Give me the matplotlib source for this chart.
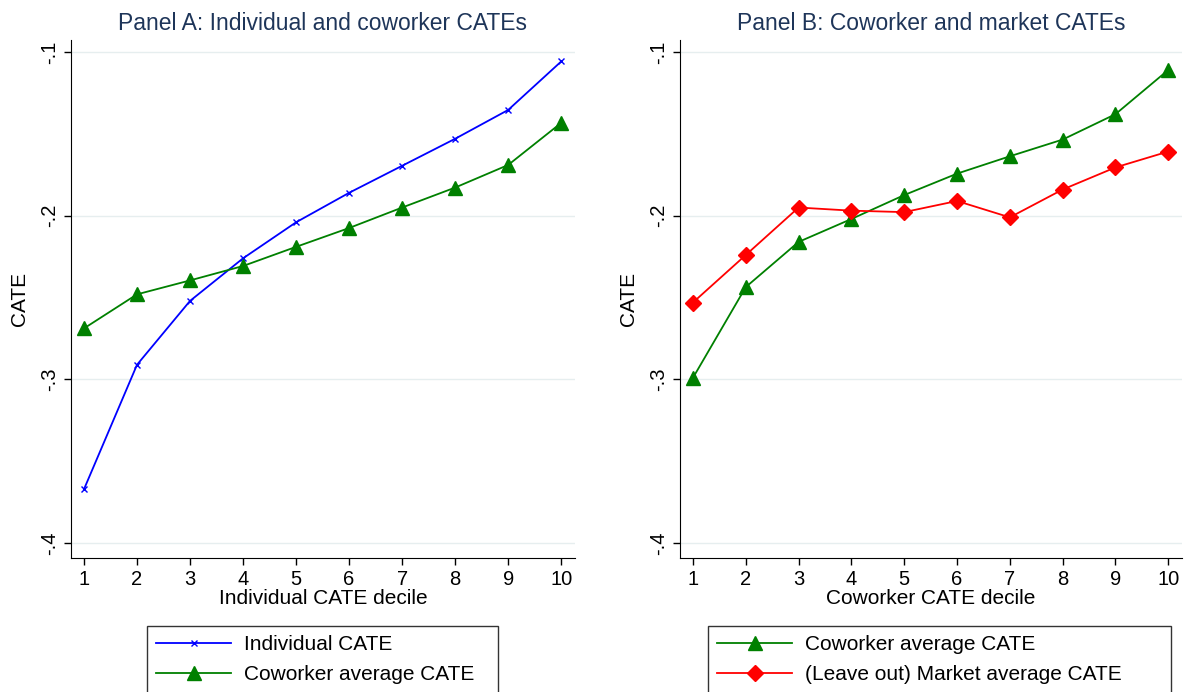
import numpy as np
import matplotlib
matplotlib.use("Agg")
import matplotlib.pyplot as plt

plt.rcParams['font.family'] = ['Liberation Sans', 'DejaVu Sans']

deciles = np.arange(1, 11)

# Panel A
indiv_cate = [-0.367, -0.291, -0.252, -0.226, -0.204, -0.186, -0.1695, -0.153, -0.1354, -0.1058]
cowork_a = [-0.2688, -0.248, -0.2395, -0.2307, -0.219, -0.2075, -0.195, -0.1828, -0.169, -0.1433]

# Panel B
cowork_b = [-0.299, -0.2436, -0.216, -0.202, -0.1874, -0.1743, -0.1637, -0.1535, -0.138, -0.111]
market_b = [-0.253, -0.224, -0.195, -0.1969, -0.1978, -0.191, -0.201, -0.184, -0.1705, -0.1608]

yticks = [-0.4, -0.3, -0.2, -0.1]
ytick_labels = ['-.4', '-.3', '-.2', '-.1']

W, H = 1185, 692
fig = plt.figure(figsize=(W / 100, H / 100), dpi=100)

title_col = '#1e3559'
grid_col = '#e6eeef'


def setup(ax, title, xlabel):
    ax.set_xlim(0.755, 10.26)
    ax.set_ylim(-0.409, -0.0927)
    ax.set_xticks(deciles)
    ax.set_yticks(yticks)
    ax.set_yticklabels(ytick_labels, rotation=90, va='center')
    ax.tick_params(labelsize=14.5, length=5, width=1)
    ax.grid(axis='y', color=grid_col, linewidth=1)
    ax.set_axisbelow(True)
    for s in ['top', 'right']:
        ax.spines[s].set_visible(False)
    ax.set_title(title, color=title_col, fontsize=16.5, pad=7)
    ax.set_xlabel(xlabel, fontsize=15, labelpad=0)
    ax.set_ylabel('CATE', fontsize=15, labelpad=8)


ax1 = fig.add_axes([71 / W, 1 - 558 / H, (575 - 71) / W, (558 - 40) / H])
ax1.plot(deciles, indiv_cate, color='blue', marker='x', markersize=4, lw=1.3,
         label='Individual CATE')
ax1.plot(deciles, cowork_a, color='green', marker='^', markersize=10, lw=1.3,
         label='Coworker average CATE')
setup(ax1, 'Panel A: Individual and coworker CATEs', 'Individual CATE decile')

ax2 = fig.add_axes([680 / W, 1 - 558 / H, (1182 - 680) / W, (558 - 40) / H])
ax2.plot(deciles, cowork_b, color='green', marker='^', markersize=10, lw=1.3,
         label='Coworker average CATE')
ax2.plot(deciles, market_b, color='red', marker='D', markersize=8, lw=1.3,
         label='(Leave out) Market average CATE')
setup(ax2, 'Panel B: Coworker and market CATEs', 'Coworker CATE decile')

for ax, x0, x1 in [(ax1, 147, 498), (ax2, 708, 1171)]:
    h, l = ax.get_legend_handles_labels()
    leg = fig.legend(h, l, loc='upper left',
                     bbox_to_anchor=(x0 / W, 1 - 626 / H, (x1 - x0) / W, 0),
                     mode='expand', fontsize=15, frameon=True, fancybox=False,
                     edgecolor='black', handlelength=3.6, handletextpad=0.6,
                     borderpad=0.45, labelspacing=0.5, borderaxespad=0)
    leg.get_frame().set_linewidth(1)

fig.savefig('out.png', dpi=100)
